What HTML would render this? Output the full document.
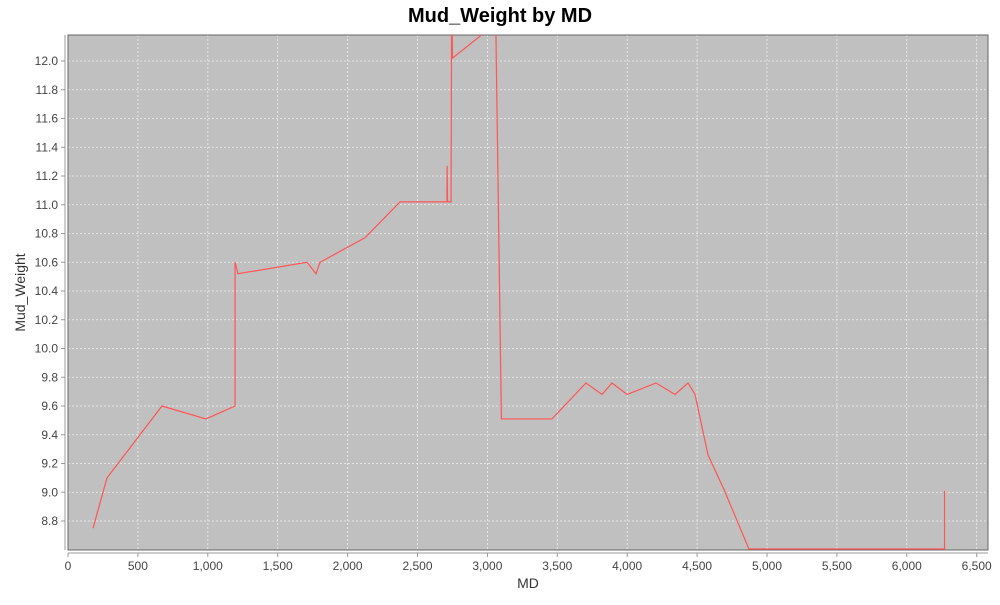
<!DOCTYPE html>
<html><head><meta charset="utf-8"><style>
body{margin:0;background:#fff;font-family:"Liberation Sans","DejaVu Sans",sans-serif}
</style></head><body>
<svg id="c" width="1000" height="600" xmlns="http://www.w3.org/2000/svg"></svg>
<script>
const mdValues=[179,279,672,987,1195,1195,1216,1710,1774,1803,2124,2375,2711,2712,2715,2740,2745,2750,3060,3100,3462,3705,3820,3891,3999,4206,4342,4435,4485,4578,4692,4871,6270,6270];
const mudWeights=[8.75,9.1,9.6,9.51,9.6,10.6,10.52,10.6,10.52,10.6,10.77,11.02,11.02,11.27,11.02,11.02,12.6,12.02,12.26,9.51,9.51,9.76,9.68,9.76,9.68,9.76,9.68,9.76,9.68,9.26,9.02,8.605,8.605,9.01];
const xTicks=[0,500,1000,1500,2000,2500,3000,3500,4000,4500,5000,5500,6000,6500];
const yTicks=[8.8,9.0,9.2,9.4,9.6,9.8,10.0,10.2,10.4,10.6,10.8,11.0,11.2,11.4,11.6,11.8,12.0];
const L=68,R=988,T=35,B=550;
const X=v=>68+v*0.13980;
const Y=v=>521-(v-8.8)*143.75;
const svg=document.getElementById('c');
const NS='http://www.w3.org/2000/svg';
function mk(t,a,p){const e=document.createElementNS(NS,t);for(const k in a)e.setAttribute(k,a[k]);(p||svg).appendChild(e);return e;}
const title=mk('text',{x:500,y:22,'text-anchor':'middle','font-size':20,'font-weight':'bold',fill:'#000'});
title.textContent='Mud_Weight by MD';


const bg=mk('rect',{x:L,y:T,width:R-L,height:B-T,fill:'#c0c0c0'});


const defs=mk('defs',{});
const cp=mk('clipPath',{id:'clip'},defs);
mk('rect',{x:L,y:T,width:R-L,height:B-T},cp);
xTicks.forEach(v=>{
 const x=X(v);
 const g=mk('line',{x1:x,x2:x,y1:T,y2:B,stroke:'#eee','stroke-dasharray':'2,2','stroke-width':0.8});
 
 
 mk('line',{x1:x,x2:x,y1:B+3,y2:B+7,stroke:'#999'});
 const t=mk('text',{x:x,y:B+20,'text-anchor':'middle','font-size':12,fill:'#444'});
 t.textContent=v.toLocaleString('en-US');
 
 
});
yTicks.forEach(v=>{
 const y=Y(v);
 const g=mk('line',{x1:L,x2:R,y1:y,y2:y,stroke:'#eee','stroke-dasharray':'2,2','stroke-width':0.8});
 
 
 mk('line',{x1:L-7,x2:L-3,y1:y,y2:y,stroke:'#999'});
 const t=mk('text',{x:L-10,y:y+4,'text-anchor':'end','font-size':12,fill:'#444'});
 t.textContent=v.toFixed(1);
 
 
});
mk('line',{x1:L,x2:R,y1:B+3,y2:B+3,stroke:'#999'});
mk('line',{x1:L-3,x2:L-3,y1:T,y2:B,stroke:'#999'});
mk('rect',{x:L,y:T,width:R-L,height:B-T,fill:'none',stroke:'#666'});
const pts=mdValues.map((m,i)=>X(m)+','+Y(mudWeights[i])).join(' ');
const line=mk('polyline',{points:pts,fill:'none',stroke:'#ff5555','stroke-width':1.2,'clip-path':'url(#clip)'});


const xl=mk('text',{x:(L+R)/2,y:588,'text-anchor':'middle','font-size':14,fill:'#333'});
xl.textContent='MD';


const yl=mk('text',{x:0,y:0,'text-anchor':'middle','font-size':14,fill:'#333',transform:'translate(25,'+((T+B)/2)+') rotate(-90)'});
yl.textContent='Mud_Weight';


</script>
</body></html>
